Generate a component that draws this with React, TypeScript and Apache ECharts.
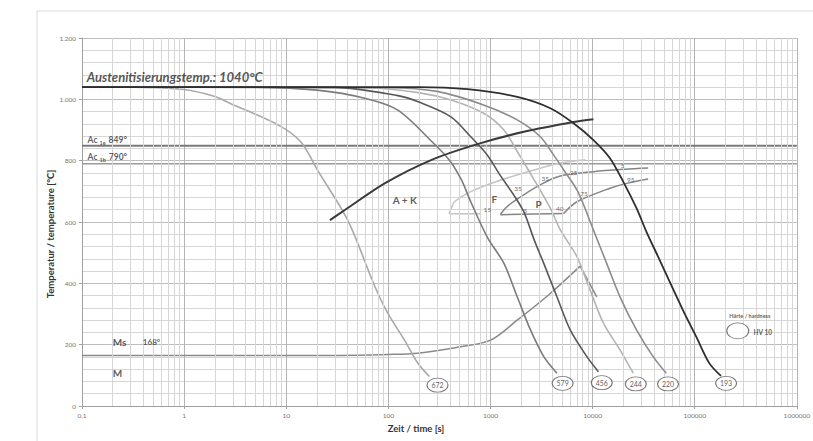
import React, { useEffect, useRef } from "react";
import * as echarts from "echarts";

// ---------- tick labels ----------
const xTickLabels = ["0,1", "1", "10", "100", "1000", "10000", "100000", "1000000"];
const yTicks = [0, 200, 400, 600, 800, 1000, 1200];
const yTickLabels = ["0", "200", "400", "600", "800", "1.000", "1.200"];

// ---------- cooling curves [time s, temperature °C] ----------
const curve672 = [[0.1, 1040], [0.4, 1039], [1, 1032], [2, 1009], [2.9, 985], [8.4, 916], [14, 860], [20.6, 765], [40, 606], [74, 389], [99, 302], [144, 215], [194, 140], [252, 96]];
const curve579 = [[0.1, 1040], [5, 1039], [20, 1030], [60, 1003], [124, 965], [262, 865], [400, 800], [520, 737], [641, 666], [933, 550], [1355, 465], [1828, 356], [2467, 248], [3327, 161], [4477, 107]];
const curve456 = [[0.1, 1040], [30, 1039], [124, 1012], [196, 992], [410, 943], [641, 878], [933, 818], [1247, 752], [1700, 687], [2130, 632], [2685, 541], [3327, 465], [4477, 356], [6040, 248], [8790, 161], [11400, 112]];
const curve244 = [[0.1, 1040], [60, 1038], [196, 1022], [410, 998], [867, 954], [1355, 900], [1828, 830], [2600, 745], [3856, 645], [4834, 574], [7021, 487], [9460, 378], [12770, 270], [18550, 183], [25000, 107]];
const curve220 = [[0.1, 1040], [100, 1038], [300, 1026], [867, 981], [1828, 933], [3080, 878], [4160, 818], [5380, 763], [7200, 698], [10200, 574], [13740, 465], [18550, 356], [26930, 248], [39160, 161], [52700, 107]];
const curve193 = [[0.1, 1040], [196, 1040], [596, 1033], [1828, 1008], [3856, 971], [6510, 922], [10200, 867], [14800, 808], [20000, 731], [26930, 645], [33700, 568], [45400, 476], [76700, 313], [103500, 226], [139400, 139], [181000, 98]];

// ---------- transformation lines ----------
const akLine = [[26.8, 606], [37.5, 639], [92, 726], [262, 802], [745, 854], [2122, 894], [6510, 926], [10200, 935]];
const ferriteUpper = [[394, 627], [420, 650], [443, 666], [641, 699], [1166, 733], [2462, 766], [4477, 790], [8500, 803]];
const ferriteBottom = [[394, 627], [800, 627]];
const pearliteUpper = [[1250, 624], [1400, 645], [1780, 672], [3060, 721], [4834, 750], [10200, 764], [20800, 772], [35000, 776]];
const pearliteBottom = [[1250, 624], [5210, 628]];
const pearliteLower = [[5210, 628], [7020, 666], [14800, 710], [21600, 726], [35000, 740]];
const msLine = [[0.1, 165], [30, 165], [100, 168], [194, 172], [450, 190], [1005, 215], [1828, 280], [3856, 367], [7550, 456]];
const bainiteStub = [[7550, 456], [11000, 356]];
const ac1eTemp = 849;
const ac1bTemp = 790;
const axisRange = [0.1, 1000000];

// ---------- hardness ----------
const hardnessValues = [672, 579, 456, 244, 220, 193];
const hardnessTimes = [303, 5090, 12300, 26500, 54800, 203000];
const hardnessTemps = [68, 74, 76, 72, 72, 74];
const legendEllipse = [264000, 245];

// ---------- annotations ----------
const phaseLabels = ["A + K", "F", "P"];
const phaseLabelPos = [[145, 672], [1090, 675], [2960, 659]];
const percentLabels = ["15", "5", "40", "35", "35", "25", "75", "5", "95"];
const percentLabelPos = [[933, 641], [2200, 639], [4770, 645], [1860, 708], [3440, 742], [6520, 761], [8260, 694], [19700, 783], [23700, 740]];

const FONT = "Lato, 'Liberation Sans', sans-serif";
const ELLIPSE = "path://M0,50 A50,50 0 1,1 100,50 A50,50 0 1,1 0,50 Z";

function minorXValues(): number[] {
  const out: number[] = [];
  for (let k = -1; k < 6; k++) {
    for (let m = 2; m <= 9; m++) out.push(Number((m * Math.pow(10, k)).toPrecision(3)));
  }
  return out;
}

function lineSeries(name: string, data: number[][], color: string, width: number, z: number, smooth: number | boolean = 0.3) {
  return {
    name,
    type: "line",
    data,
    symbol: "none",
    showSymbol: false,
    smooth,
    lineStyle: { color, width },
    z,
    silent: true,
  };
}

function textItem(value: number[], text: string, opts: any) {
  return {
    value,
    label: {
      show: true,
      position: [0, 0],
      formatter: text,
      fontFamily: FONT,
      color: "#333",
      align: "center",
      verticalAlign: "middle",
      ...opts,
    },
  };
}

export default function App() {
  const ref = useRef<HTMLDivElement>(null);

  useEffect(() => {
    if (!ref.current) return;
    const chart = echarts.init(ref.current, undefined, { renderer: "svg" });

    const annotations: any[] = [];
    annotations.push(textItem([0.111, 1073], "Austenitisierungstemp.: 1040°C", { align: "left", fontSize: 13, fontWeight: "bold", fontStyle: "italic", color: "#2a2a2a" }));
    const acRich = {
      a: { fontSize: 8.5, fontWeight: "bold", fontFamily: FONT, color: "#333" },
      s: { fontSize: 5.5, fontWeight: "bold", fontFamily: FONT, color: "#333", padding: [6, 3, 0, 2] },
    };
    annotations.push(textItem([0.1135, 867], `{a|Ac}{s|1e}{a|${ac1eTemp}°}`, { align: "left", rich: acRich }));
    annotations.push(textItem([0.1135, 812], `{a|Ac}{s|1b}{a|${ac1bTemp}°}`, { align: "left", rich: acRich }));
    annotations.push(textItem([0.233, 210], "Ms", { fontSize: 10, fontWeight: "bold" }));
    annotations.push(textItem([0.479, 210], "168°", { fontSize: 8, fontWeight: "bold" }));
    annotations.push(textItem([0.223, 109], "M", { fontSize: 10, fontWeight: "bold" }));
    phaseLabels.forEach((t, i) => annotations.push(textItem(phaseLabelPos[i], t, { fontSize: 10, fontWeight: "bold" })));
    percentLabels.forEach((t, i) => annotations.push(textItem(percentLabelPos[i], t, { fontSize: 6.5, color: "#444" })));
    annotations.push(textItem([347000, 294], "Härte / hardness", { fontSize: 5.5, fontWeight: "bold" }));
    annotations.push(textItem([464000, 241], "HV 10", { fontSize: 6.5, fontWeight: "bold" }));

    const option: any = {
      animation: false,
      backgroundColor: "#ffffff",
      grid: { left: 82, right: 13, top: 38, bottom: 35, containLabel: false },
      xAxis: {
        type: "log",
        logBase: 10,
        min: axisRange[0],
        max: axisRange[1],
        axisLine: { show: true, lineStyle: { color: "#a0a0a0", width: 1 } },
        axisTick: { show: true, length: 3, lineStyle: { color: "#a0a0a0" } },
        axisLabel: {
          fontSize: 6.5,
          color: "#777",
          fontFamily: FONT,
          margin: 6,
          formatter: (v: number) => xTickLabels[Math.round(Math.log10(v)) + 1] ?? "",
        },
        splitLine: { show: true, lineStyle: { color: "#b4b4b4", width: 1 } },
      },
      yAxis: {
        type: "value",
        min: 0,
        max: 1200,
        interval: 200,
        axisLine: { show: true, lineStyle: { color: "#a0a0a0", width: 1 } },
        axisTick: { show: true, length: 3, lineStyle: { color: "#a0a0a0" } },
        axisLabel: {
          fontSize: 6.5,
          color: "#777",
          fontFamily: FONT,
          margin: 6,
          formatter: (v: number) => yTickLabels[yTicks.indexOf(Math.round(v))] ?? "",
        },
        splitLine: { show: true, lineStyle: { color: "#bdbdbd", width: 1 } },
        minorTick: { show: false, splitNumber: 5 },
        minorSplitLine: { show: true, lineStyle: { color: "#d6d6d6", width: 1 } },
      },
      graphic: [
        { type: "rect", shape: { x: 37, y: 11, width: 830, height: 470 }, style: { fill: "none", stroke: "#d9d9d9", lineWidth: 1 }, z: -10, silent: true },
        { type: "text", x: 50, y: 234, rotation: Math.PI / 2, style: { text: "Temperatur / temperature [°C]", fontSize: 9.5, fontWeight: "bold", fontFamily: FONT, fill: "#333", align: "center", verticalAlign: "middle" } },
        { type: "text", x: 416, y: 428, style: { text: "Zeit / time [s]", fontSize: 9.5, fontWeight: "bold", fontFamily: FONT, fill: "#333", align: "center", verticalAlign: "middle" } },
      ],
      series: [
        {
          name: "minorGrid",
          type: "line",
          data: [],
          silent: true,
          z: 0,
          markLine: {
            silent: true,
            symbol: "none",
            animation: false,
            label: { show: false },
            lineStyle: { color: "#d6d6d6", width: 1, type: "solid" },
            data: minorXValues().map((v) => ({ xAxis: v })),
          },
        },
        lineSeries("Ac1e", [[axisRange[0], ac1eTemp], [axisRange[1], ac1eTemp]], "#7a7a7a", 2, 2, false),
        lineSeries("Ac1b", [[axisRange[0], ac1bTemp], [axisRange[1], ac1bTemp]], "#9a9a9a", 1.5, 2, false),
        lineSeries("Ms", msLine, "#8a8a8a", 1.5, 3),
        lineSeries("Bainite", bainiteStub, "#8a8a8a", 1.5, 3, false),
        lineSeries("Ferrite upper", ferriteUpper, "#c4c4c4", 1.5, 3),
        lineSeries("Ferrite bottom", ferriteBottom, "#c4c4c4", 1.5, 3, false),
        lineSeries("Pearlite upper", pearliteUpper, "#858585", 1.5, 3),
        lineSeries("Pearlite bottom", pearliteBottom, "#858585", 1.5, 3, false),
        lineSeries("Pearlite lower", pearliteLower, "#858585", 1.5, 3),
        lineSeries("672", curve672, "#a9a9a9", 1.6, 4),
        lineSeries("244", curve244, "#b4b4b4", 1.6, 4),
        lineSeries("220", curve220, "#8c8c8c", 1.6, 5),
        lineSeries("579", curve579, "#7c7c7c", 1.6, 5),
        lineSeries("456", curve456, "#585858", 1.6, 6),
        lineSeries("A+K", akLine, "#3a3a3a", 2, 7),
        lineSeries("193", curve193, "#2e2e2e", 1.8, 8),
        {
          name: "hardness",
          type: "scatter",
          symbol: ELLIPSE,
          symbolSize: [21, 14],
          z: 9,
          silent: true,
          itemStyle: { color: "#ffffff", borderColor: "#555", borderWidth: 1 },
          label: { show: true, position: "inside", fontSize: 7, color: "#333", fontFamily: FONT, formatter: (p: any) => String(hardnessValues[p.dataIndex]) },
          data: hardnessTimes.map((t, i) => [t, hardnessTemps[i]]),
        },
        {
          name: "legendEllipse",
          type: "scatter",
          symbol: ELLIPSE,
          symbolSize: [22, 16],
          z: 9,
          silent: true,
          itemStyle: { color: "#ffffff", borderColor: "#555", borderWidth: 1 },
          data: [legendEllipse],
        },
        {
          name: "annotations",
          type: "scatter",
          symbolSize: 0.001,
          itemStyle: { color: "transparent" },
          z: 10,
          silent: true,
          data: annotations,
        },
      ],
    };

    chart.setOption(option);
    return () => chart.dispose();
  }, []);

  return <div ref={ref} style={{ position: "absolute", left: 0, top: 0, width: 813, height: 441 }} />;
}
